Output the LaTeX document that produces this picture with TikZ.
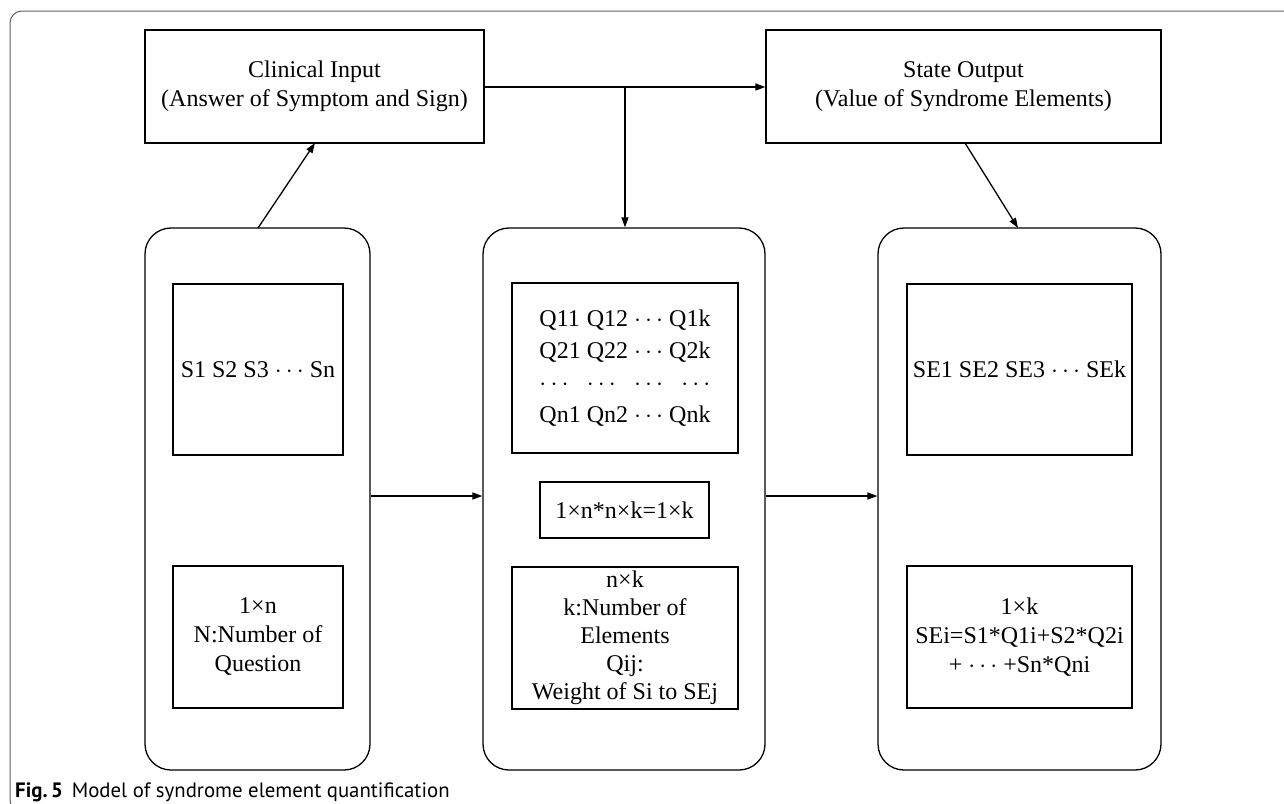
\documentclass[tikz,border=0pt]{standalone}
\usepackage{fontspec}
\setmainfont{Liberation Serif}
\newfontfamily\capfont{PT Sans}
\usetikzlibrary{arrows.meta}
\tikzset{
  sq/.style={draw, line width=1.3pt, rectangle, inner sep=0pt, align=center,
    font=\fontsize{24}{29}\selectfont},
  rbox/.style={draw, line width=1.3pt, rectangle, rounded corners=26pt, inner sep=0pt},
  conn/.style={line width=1.3pt, -{Triangle[length=10pt,width=7pt]}},
  frame/.style={draw=black!62, line width=1pt, rounded corners=12pt}
}
\begin{document}
\begin{tikzpicture}[x=1pt,y=-1pt]
\useasboundingbox (0,0) rectangle (1284,803);
\begin{scope}
\clip (0,0) rectangle (1284,803);
\draw[frame] (10,11) rectangle (1300,812);
\end{scope}

% top boxes
\node[sq, minimum width=339pt, minimum height=113pt] (ci) at (314.5,86.5)
  {Clinical Input\\(Answer of Symptom and Sign)};
\node[sq, minimum width=395pt, minimum height=113pt] (so) at (963.5,86.5)
  {State Output\\(Value of Syndrome Elements)};

% rounded containers
\node[rbox, minimum width=225pt, minimum height=542pt] (L) at (257.5,499) {};
\node[rbox, minimum width=282pt, minimum height=542pt] (M) at (624,499) {};
\node[rbox, minimum width=283pt, minimum height=542pt] (R) at (1019.5,499) {};

% left inner boxes
\node[sq, minimum width=170pt, minimum height=171pt] (s) at (258,369.5)
  {S1 S2 S3 $\cdots$ Sn};
\node[sq, minimum width=170pt, minimum height=142pt] (n) at (258,637)
  {1×n\\N:Number of\\Question};

% middle inner boxes
\node[sq, minimum width=226pt, minimum height=170pt, font=\fontsize{24}{32}\selectfont] (q) at (625,368)
  {\begin{tabular}{@{}l@{ }l@{ }l@{ }r@{}}
   Q11 & Q12 & $\cdots$ & Q1k\\
   Q21 & Q22 & $\cdots$ & Q2k\\
   $\cdots$ & $\cdots$ & $\cdots$ & $\cdots$\\
   Qn1 & Qn2 & $\cdots$ & Qnk
   \end{tabular}};
\node[sq, minimum width=169pt, minimum height=56pt] (mul) at (624.5,510)
  {1×n*n×k=1×k};
\node[sq, minimum width=226pt, minimum height=142pt, font=\fontsize{24}{28}\selectfont] (w) at (625,638)
  {n×k\\k:Number of\\Elements\\Qij:\\Weight of Si to SEj};

% right inner boxes
\node[sq, minimum width=225pt, minimum height=171pt] (se) at (1019.5,369.5)
  {SE1 SE2 SE3 $\cdots$ SEk};
\node[sq, minimum width=225pt, minimum height=142pt] (f) at (1019.5,637)
  {1×k\\SEi=S1*Q1i+S2*Q2i\\+ $\cdots$ +Sn*Qni};

% connectors
\coordinate (j) at (625,87);
\coordinate (h) at (0,496);
\draw[conn] (ci.east |- j) -- (so.west |- j);
\draw[conn] (j) -- (j |- M.north);
\draw[conn] (258,228) -- (315,143);
\draw[conn] (965,143) -- (1018,228);
\draw[conn] (L.east |- h) -- (M.west |- h);
\draw[conn] (M.east |- h) -- (R.west |- h);

% caption
\node[anchor=base west, inner sep=0pt, font=\capfont\fontsize{20.8}{24}\selectfont] (cap) at (15,797)
  {\textbf{Fig.\,5}\hspace{9pt}Model of syndrome element quantification};
\end{tikzpicture}
\end{document}
